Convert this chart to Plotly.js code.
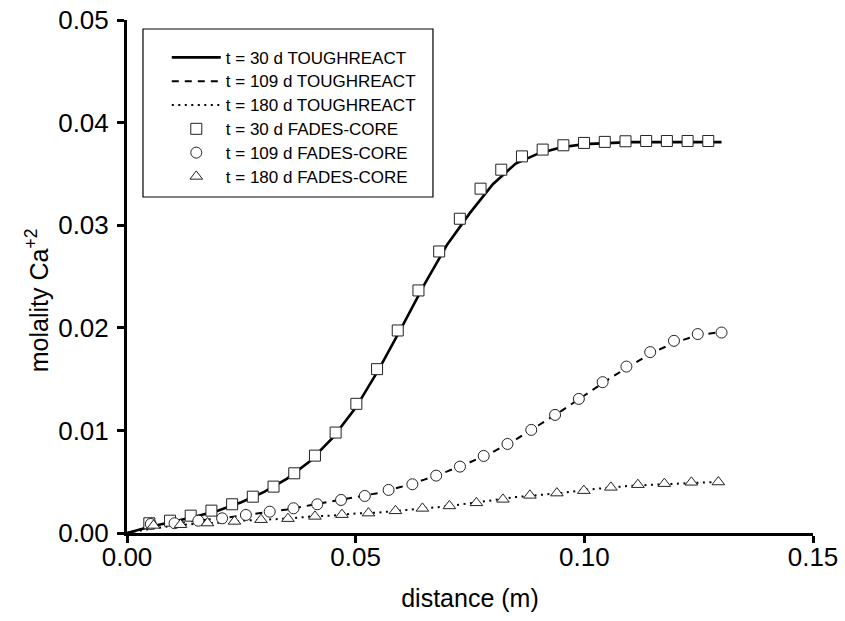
<!DOCTYPE html>
<html>
<head>
<meta charset="utf-8">
<script src="https://cdn.plot.ly/plotly-3.0.1.min.js"></script>
<style>html,body{margin:0;padding:0;background:#fff;}#chart{width:845px;height:621px;}</style>
</head>
<body>
<div id="chart"></div>
<script>
// TOUGHREACT simulated profiles (lines)
var lineX = [0, 0.005, 0.010, 0.015, 0.020, 0.025, 0.030, 0.035, 0.040, 0.045, 0.050, 0.055, 0.060, 0.065, 0.070, 0.075, 0.080, 0.085, 0.090, 0.095, 0.100, 0.105, 0.110, 0.115, 0.120, 0.125, 0.130];
var tr30  = [0, 0.0006, 0.0011, 0.0016, 0.0022, 0.0030, 0.0040, 0.0053, 0.0070, 0.0093, 0.0122, 0.0159, 0.0200, 0.0242, 0.0281, 0.0312, 0.0340, 0.0360, 0.0370, 0.0376, 0.0379, 0.0380, 0.0381, 0.0381, 0.0381, 0.0381, 0.0381];
var tr109 = [0, 0.0006, 0.0009, 0.0012, 0.0014, 0.0017, 0.0020, 0.0023, 0.0027, 0.0031, 0.0035, 0.0039, 0.0045, 0.0052, 0.0060, 0.0069, 0.0079, 0.0091, 0.0105, 0.0119, 0.0134, 0.0149, 0.0163, 0.0176, 0.0186, 0.0193, 0.0196];
var tr180 = [0, 0.0004, 0.0007, 0.0009, 0.0010, 0.0012, 0.0013, 0.0014, 0.0016, 0.0017, 0.0019, 0.0020, 0.0022, 0.0024, 0.0026, 0.0029, 0.0032, 0.0035, 0.0037, 0.0039, 0.0042, 0.0044, 0.0046, 0.0047, 0.0048, 0.0049, 0.0050];

// FADES-CORE results (markers)
var fc30X = [0.00488, 0.00941, 0.01393, 0.01846, 0.02299, 0.02751, 0.03204, 0.03657, 0.04110, 0.04562, 0.05015, 0.05468, 0.05920, 0.06373, 0.06826, 0.07278, 0.07731, 0.08184, 0.08636, 0.09089, 0.09542, 0.09994, 0.10447, 0.10900, 0.11352, 0.11805, 0.12258, 0.12710];
var fc30Y = [0.00095, 0.00120, 0.00169, 0.00218, 0.00280, 0.00354, 0.00452, 0.00582, 0.00754, 0.00979, 0.01259, 0.01597, 0.01974, 0.02364, 0.02744, 0.03063, 0.03356, 0.03541, 0.03671, 0.03737, 0.03779, 0.03802, 0.03812, 0.03818, 0.03821, 0.03821, 0.03821, 0.03821];

var fc109X = [0.0052, 0.0104, 0.0156, 0.0208, 0.0260, 0.0312, 0.0364, 0.0416, 0.0468, 0.0520, 0.0572, 0.0624, 0.0676, 0.0728, 0.0780, 0.0832, 0.0884, 0.0936, 0.0988, 0.1040, 0.1092, 0.1144, 0.1196, 0.1248, 0.1300];
var fc109Y = [0.00088, 0.00095, 0.00120, 0.00143, 0.00176, 0.00208, 0.00241, 0.00280, 0.00322, 0.00361, 0.00420, 0.00475, 0.00559, 0.00647, 0.00751, 0.00868, 0.01005, 0.01151, 0.01307, 0.01470, 0.01622, 0.01763, 0.01873, 0.01939, 0.01954];

var fc180X = [0.0058, 0.0117, 0.0176, 0.0235, 0.0293, 0.0352, 0.0411, 0.0470, 0.0528, 0.0587, 0.0646, 0.0705, 0.0764, 0.0822, 0.0881, 0.0940, 0.0999, 0.1058, 0.1117, 0.1175, 0.1234, 0.1293];
var fc180Y = [0.00074, 0.00081, 0.00097, 0.00113, 0.00130, 0.00140, 0.00162, 0.00179, 0.00194, 0.00216, 0.00240, 0.00264, 0.00294, 0.00328, 0.00367, 0.00389, 0.00413, 0.00445, 0.00471, 0.00481, 0.00494, 0.00497];

var names = ['t = 30 d TOUGHREACT', 't = 109 d TOUGHREACT', 't = 180 d TOUGHREACT',
             't = 30 d FADES-CORE', 't = 109 d FADES-CORE', 't = 180 d FADES-CORE'];
var xTicks = [0, 0.05, 0.10, 0.15];
var yTicks = [0, 0.01, 0.02, 0.03, 0.04, 0.05];
var xTitle = 'distance (m)';
var yTitle = 'molality Ca<sup>+2</sup>';

var FONT = 'Liberation Sans, Arial, Helvetica, sans-serif';

function legendName(s) { return '<span style="font-size:17px">' + s + '</span>'; }

function lineTrace(y, name, dash, w) {
  return {x: lineX, y: y, name: legendName(name), type: 'scatter', mode: 'lines',
          line: {color: '#000', width: w, dash: dash}, legendgroup: name};
}
function markTrace(x, y, name, sym) {
  return {x: x, y: y, name: legendName(name), type: 'scatter', mode: 'markers', legendgroup: name,
          marker: {symbol: sym, size: 11, color: '#fff', line: {color: '#222', width: 1}}};
}

var data = [
  lineTrace(tr30, names[0], 'solid', 2.6),
  lineTrace(tr109, names[1], '7px,6px', 2),
  lineTrace(tr180, names[2], '2px,4.5px', 2),
  markTrace(fc30X, fc30Y, names[3], 'square'),
  markTrace(fc109X, fc109Y, names[4], 'circle'),
  markTrace(fc180X, fc180Y, names[5], 'triangle-up')
];

var layout = {
  width: 845, height: 621,
  margin: {l: 127, r: 32, t: 20, b: 88},
  paper_bgcolor: '#fff', plot_bgcolor: '#fff',
  font: {family: FONT, color: '#000'},
  showlegend: true,
  legend: {
    x: 0.058, y: 0.960, xanchor: 'left', yanchor: 'top',
    bgcolor: 'rgba(0,0,0,0)', borderwidth: 0,
    font: {family: FONT, size: 16, color: '#000'},
    itemwidth: 49, tracegroupgap: 0, traceorder: 'normal'
  },
  xaxis: {
    range: [0, 0.15], tickvals: xTicks, tickformat: '.2f',
    showline: true, linecolor: '#000', linewidth: 3, mirror: false,
    ticks: 'outside', ticklen: 7, tickwidth: 3, tickcolor: '#000',
    showgrid: false, zeroline: false, ticklabelstandoff: -8,
    tickfont: {family: FONT, size: 26, color: '#000'},
    title: {text: xTitle, font: {family: FONT, size: 25, color: '#000'}, standoff: 19}
  },
  yaxis: {
    range: [0, 0.05], tickvals: yTicks, tickformat: '.2f',
    showline: true, linecolor: '#000', linewidth: 3, mirror: false,
    ticks: 'outside', ticklen: 7, tickwidth: 3, tickcolor: '#000',
    showgrid: false, zeroline: false, ticklabelstandoff: 3,
    tickfont: {family: FONT, size: 26, color: '#000'}
  },
  annotations: [{
    text: yTitle, xref: 'paper', yref: 'paper', x: -0.131, y: 0.454,
    xanchor: 'center', yanchor: 'middle', textangle: -90, showarrow: false,
    font: {family: FONT, size: 25, color: '#000'}
  }],
  shapes: [{
    type: 'rect', xref: 'paper', yref: 'paper',
    x0: 0.0233, x1: 0.446, y0: 0.655, y1: 0.9825,
    line: {color: '#000', width: 1.2}, fillcolor: 'rgba(0,0,0,0)', layer: 'above'
  }]
};

Plotly.newPlot('chart', data, layout, {displayModeBar: false, staticPlot: true});
</script>
</body>
</html>
